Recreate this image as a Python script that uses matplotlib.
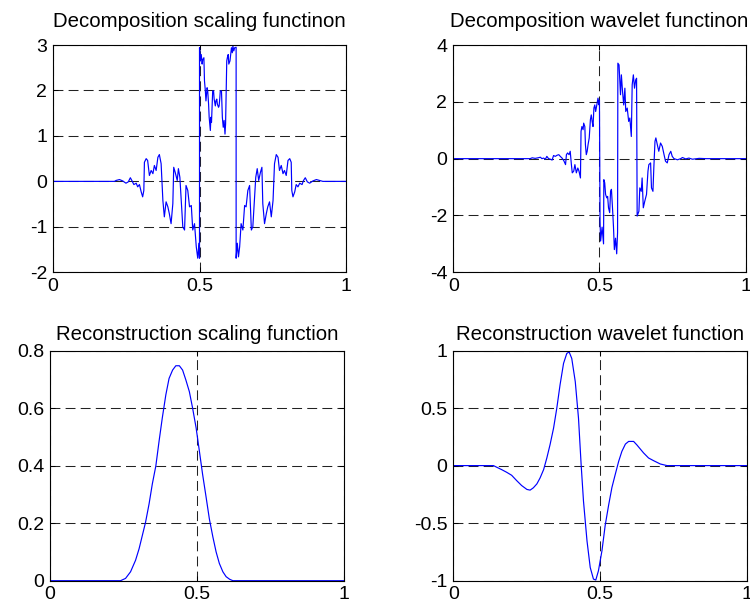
import matplotlib
matplotlib.use("Agg")
import matplotlib.pyplot as plt

plt.rcParams['font.family'] = ['Liberation Sans', 'DejaVu Sans']
plt.rcParams['axes.unicode_minus'] = False

# ---- Decomposition scaling function ----
dec_phi_x = [0.000, 0.210, 0.215, 0.227, 0.238, 0.249, 0.257, 0.264, 0.269, 0.276,
             0.284, 0.289, 0.295, 0.301, 0.306, 0.310, 0.312, 0.318, 0.323, 0.329,
             0.335, 0.341, 0.346, 0.352, 0.358, 0.363, 0.369, 0.375, 0.380, 0.386,
             0.392, 0.397, 0.403, 0.409, 0.412, 0.417, 0.424, 0.428, 0.433, 0.437,
             0.443, 0.449, 0.454, 0.460, 0.466, 0.472, 0.477, 0.483, 0.489, 0.494,
             0.498, 0.500, 0.500, 0.503, 0.506, 0.509, 0.511, 0.515, 0.517, 0.520,
             0.522, 0.526, 0.528, 0.531, 0.533, 0.537, 0.539, 0.541, 0.545, 0.548,
             0.550, 0.554, 0.556, 0.559, 0.561, 0.565, 0.567, 0.569, 0.571, 0.575,
             0.578, 0.581, 0.584, 0.587, 0.589, 0.593, 0.595, 0.598, 0.600, 0.604,
             0.606, 0.609, 0.612, 0.614, 0.617, 0.620, 0.625, 0.625, 0.629, 0.633,
             0.637, 0.642, 0.648, 0.654, 0.659, 0.665, 0.671, 0.677, 0.682, 0.688,
             0.692, 0.697, 0.702, 0.708, 0.713, 0.716, 0.722, 0.728, 0.733, 0.739,
             0.745, 0.751, 0.756, 0.762, 0.768, 0.773, 0.779, 0.785, 0.790, 0.796,
             0.802, 0.808, 0.813, 0.815, 0.819, 0.825, 0.830, 0.836, 0.842, 0.850,
             0.855, 0.861, 0.868, 0.876, 0.887, 0.899, 0.910, 0.921, 1.000]
dec_phi_y = [0.00, 0.00, 0.02, 0.04, 0.01, -0.04, -0.01, 0.08, 0.02, -0.07,
             -0.04, -0.12, -0.07, -0.23, -0.34, -0.20, 0.42, 0.50, 0.46, 0.13,
             0.24, 0.17, 0.35, 0.24, 0.53, 0.59, 0.39, -0.42, -0.78, -0.45,
             -0.56, -0.71, -0.93, -0.49, 0.31, 0.20, 0.02, 0.28, 0.09, -0.34,
             -1.00, -1.07, -0.09, -0.20, -0.56, -0.53, -1.07, -0.93, -1.44, -1.69,
             -1.36, -1.69, 2.94, 2.65, 2.79, 2.58, 2.68, 2.72, 2.21, 1.99,
             1.77, 2.06, 1.99, 1.70, 1.41, 1.12, 1.41, 1.30, 1.99, 1.99,
             1.81, 1.66, 1.77, 1.81, 1.70, 1.63, 1.66, 1.81, 1.99, 1.99,
             1.41, 1.19, 1.34, 1.04, 1.26, 2.65, 2.72, 2.79, 2.58, 2.65,
             2.76, 2.94, 2.83, 2.98, 2.87, 2.94, 2.95, -1.69, -1.36, -1.66,
             -1.44, -0.93, -1.07, -0.53, -0.56, -0.20, -0.09, -1.07, -1.00, -0.34,
             0.09, 0.28, 0.02, 0.20, 0.31, -0.49, -0.93, -0.71, -0.56, -0.45,
             -0.78, -0.42, 0.39, 0.59, 0.53, 0.24, 0.35, 0.17, 0.24, 0.13,
             0.46, 0.50, 0.42, -0.20, -0.34, -0.23, -0.07, -0.12, -0.04, -0.07,
             0.02, 0.08, -0.01, -0.04, 0.01, 0.04, 0.02, 0.00, 0.00]

# ---- Decomposition wavelet function ----
dec_psi_x = [0.000, 0.263, 0.270, 0.280, 0.290, 0.298, 0.303, 0.309, 0.315, 0.320,
             0.326, 0.332, 0.338, 0.343, 0.349, 0.355, 0.361, 0.366, 0.372, 0.378,
             0.384, 0.387, 0.391, 0.396, 0.400, 0.404, 0.407, 0.412, 0.416, 0.421,
             0.426, 0.430, 0.435, 0.437, 0.440, 0.444, 0.446, 0.450, 0.452, 0.455,
             0.458, 0.461, 0.465, 0.469, 0.472, 0.475, 0.478, 0.481, 0.484, 0.487,
             0.492, 0.495, 0.499, 0.500, 0.502, 0.504, 0.509, 0.514, 0.515, 0.518,
             0.521, 0.525, 0.528, 0.531, 0.535, 0.538, 0.541, 0.545, 0.548, 0.551,
             0.555, 0.559, 0.562, 0.563, 0.567, 0.572, 0.575, 0.579, 0.583, 0.587,
             0.590, 0.595, 0.600, 0.604, 0.609, 0.612, 0.616, 0.620, 0.624, 0.627,
             0.629, 0.635, 0.638, 0.643, 0.646, 0.650, 0.655, 0.661, 0.666, 0.669,
             0.675, 0.678, 0.683, 0.686, 0.690, 0.693, 0.698, 0.703, 0.709, 0.715,
             0.721, 0.726, 0.732, 0.738, 0.744, 0.749, 0.755, 0.767, 0.778, 0.784,
             0.795, 0.806, 0.818, 0.841, 0.864, 1.000]
dec_psi_y = [0.00, 0.00, 0.03, 0.01, 0.03, 0.05, 0.00, 0.02, -0.02, 0.08,
             0.00, -0.02, -0.05, 0.11, 0.08, 0.12, 0.14, 0.08, 0.02, -0.07,
             -0.21, 0.14, 0.20, 0.14, 0.26, -0.21, -0.50, -0.44, -0.21, -0.50,
             -0.33, -0.44, -0.68, 0.96, 1.13, 1.02, 1.25, 1.13, 0.49, 0.14,
             0.26, 0.49, 0.73, 1.37, 1.54, 1.31, 1.13, 1.78, 1.89, 1.66,
             1.95, 2.13, 1.89, 2.05, -2.20, -2.90, -2.41, -3.00, -0.74, -0.85,
             -1.26, -1.38, -1.33, -1.73, -1.90, -1.15, -1.08, -1.80, -2.40, -3.20,
             -2.80, -3.35, -2.60, 3.36, 3.30, 2.25, 2.95, 2.36, 1.89, 2.48,
             1.66, 1.78, 1.31, 1.43, 0.78, 2.60, 2.95, 2.48, 2.77, 2.83,
             -2.02, -1.85, -1.03, -1.15, -0.68, -1.73, -1.50, -1.26, -0.44, -0.21,
             -0.15, -1.03, -1.15, -0.33, 0.61, 0.73, 0.49, 0.26, 0.55, 0.43,
             0.14, -0.09, -0.15, 0.14, 0.26, 0.08, 0.00, -0.04, 0.00, 0.04,
             -0.01, 0.02, -0.02, 0.01, 0.00, 0.00]

# ---- Reconstruction scaling function ----
rec_phi_x = [0.000, 0.240, 0.257, 0.274, 0.291, 0.303, 0.314, 0.325, 0.337, 0.348,
             0.360, 0.371, 0.382, 0.394, 0.405, 0.417, 0.428, 0.440, 0.451, 0.462,
             0.474, 0.485, 0.497, 0.508, 0.519, 0.531, 0.542, 0.554, 0.565, 0.576,
             0.588, 0.599, 0.611, 0.622, 1.000]
rec_phi_y = [0.000, 0.000, 0.008, 0.031, 0.071, 0.111, 0.157, 0.203, 0.267, 0.336,
             0.399, 0.485, 0.566, 0.646, 0.703, 0.732, 0.747, 0.747, 0.732, 0.698,
             0.657, 0.600, 0.531, 0.451, 0.370, 0.290, 0.215, 0.152, 0.100, 0.060,
             0.031, 0.014, 0.005, 0.000, 0.000]

# ---- Reconstruction wavelet function ----
rec_psi_x = [0.000, 0.137, 0.148, 0.165, 0.182, 0.199, 0.216, 0.233, 0.251, 0.262,
             0.273, 0.285, 0.296, 0.308, 0.319, 0.330, 0.342, 0.353, 0.364, 0.376,
             0.387, 0.395, 0.404, 0.416, 0.427, 0.436, 0.444, 0.456, 0.467, 0.478,
             0.486, 0.495, 0.507, 0.518, 0.530, 0.541, 0.552, 0.564, 0.575, 0.587,
             0.598, 0.615, 0.626, 0.649, 0.666, 0.683, 0.706, 0.729, 1.000]
rec_psi_y = [0.000, 0.000, -0.014, -0.035, -0.058, -0.084, -0.130, -0.173, -0.207, -0.213,
             -0.193, -0.159, -0.107, -0.035, 0.066, 0.182, 0.326, 0.499, 0.700, 0.888,
             0.974, 0.988, 0.931, 0.729, 0.412, 0.009, -0.308, -0.654, -0.885, -0.986,
             -0.994, -0.914, -0.740, -0.520, -0.340, -0.190, -0.080, 0.037, 0.124, 0.187,
             0.210, 0.210, 0.180, 0.110, 0.066, 0.043, 0.014, 0.000, 0.000]

x_ticks = [0, 0.5, 1]
x_tick_labels = ['0', '0.5', '1']

panels = [
    dict(title='Decomposition scaling functinon', x=dec_phi_x, y=dec_phi_y,
         ylim=(-2, 3), yticks=[-2, -1, 0, 1, 2, 3],
         ylabels=['-2', '-1', '0', '1', '2', '3'],
         rect=(53, 45, 346, 272.3), pad=13.0),
    dict(title='Decomposition wavelet functinon', x=dec_psi_x, y=dec_psi_y,
         ylim=(-4, 4), yticks=[-4, -2, 0, 2, 4],
         ylabels=['-4', '-2', '0', '2', '4'],
         rect=(453.3, 45, 745.6, 272.3), pad=13.0),
    dict(title='Reconstruction scaling function', x=rec_phi_x, y=rec_phi_y,
         ylim=(0, 0.8), yticks=[0, 0.2, 0.4, 0.6, 0.8],
         ylabels=['0', '0.2', '0.4', '0.6', '0.8'],
         rect=(50, 350.5, 344, 580.7), pad=7.5),
    dict(title='Reconstruction wavelet function', x=rec_psi_x, y=rec_psi_y,
         ylim=(-1, 1), yticks=[-1, -0.5, 0, 0.5, 1],
         ylabels=['-1', '-0.5', '0', '0.5', '1'],
         rect=(453.3, 350.5, 746.5, 580.7), pad=7.5),
]

W, H = 750, 607
fig = plt.figure(figsize=(W / 100, H / 100), dpi=100)
fig.patch.set_facecolor('white')

for p in panels:
    x0, y0, x1, y1 = p['rect']
    ax = fig.add_axes([x0 / W, 1 - y1 / H, (x1 - x0) / W, (y1 - y0) / H])
    ax.plot(p['x'], p['y'], color='#0000ff', linewidth=0.85)
    ax.set_xlim(0, 1)
    ax.set_ylim(*p['ylim'])
    ax.set_xticks(x_ticks)
    ax.set_xticklabels(x_tick_labels)
    ax.set_yticks(p['yticks'])
    ax.set_yticklabels(p['ylabels'])
    ax.grid(True, color='#222222', linestyle=(0, (9.5, 5)), linewidth=0.75)
    ax.set_axisbelow(True)
    ax.tick_params(direction='in', length=3.6, width=0.75, labelsize=14,
                   top=True, right=True, colors='black')
    ax.tick_params(axis='x', pad=4.0)
    ax.tick_params(axis='y', pad=4.3)
    for s in ax.spines.values():
        s.set_linewidth(0.8)
        s.set_color('black')
    ax.set_title(p['title'], fontsize=14.7, pad=p['pad'])

fig.savefig('out.png', dpi=100, facecolor='white')
